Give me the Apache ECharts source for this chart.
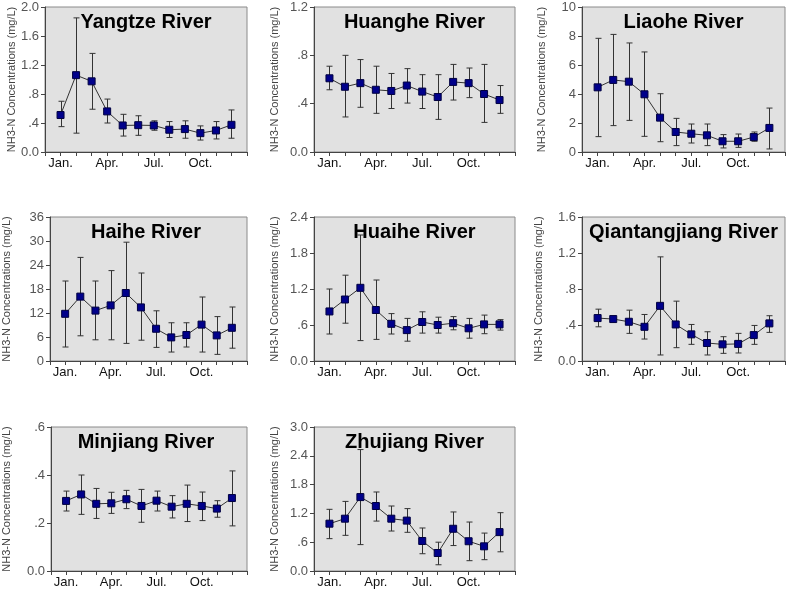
<!DOCTYPE html>
<html><head><meta charset="utf-8">
<script src="https://cdn.jsdelivr.net/npm/echarts@6/dist/echarts.min.js"></script>
<style>html,body{margin:0;padding:0;background:#fff}#c{width:787px;height:591px}</style>
</head><body><div id="c"></div>
<script>
var months = ['Jan.','Feb.','Mar.','Apr.','May','Jun.','Jul.','Aug.','Sep.','Oct.','Nov.','Dec.'];
var rivers = ['Yangtze River','Huanghe River','Liaohe River','Haihe River','Huaihe River','Qiantangjiang River','Minjiang River','Zhujiang River'];

var yangtzeMean = [0.51,1.06,0.975,0.56,0.366,0.37,0.366,0.307,0.316,0.26,0.297,0.375];
var yangtzeHigh = [0.70,1.85,1.36,0.73,0.52,0.50,0.43,0.42,0.43,0.36,0.42,0.58];
var yangtzeLow  = [0.35,0.26,0.59,0.40,0.22,0.23,0.30,0.20,0.19,0.165,0.18,0.19];

var huangheMean = [0.61,0.54,0.57,0.515,0.505,0.55,0.50,0.455,0.58,0.57,0.48,0.43];
var huangheHigh = [0.71,0.80,0.765,0.71,0.65,0.69,0.64,0.64,0.725,0.695,0.725,0.55];
var huangheLow  = [0.515,0.29,0.37,0.32,0.36,0.405,0.36,0.27,0.43,0.45,0.245,0.32];

var liaoheMean = [4.46,4.97,4.85,3.98,2.37,1.38,1.26,1.15,0.74,0.74,1.03,1.66];
var liaoheHigh = [7.84,8.11,7.52,6.9,4.02,2.32,1.93,1.93,1.2,1.24,1.38,3.03];
var liaoheLow  = [1.06,1.82,2.18,1.08,0.71,0.44,0.62,0.44,0.28,0.32,0.74,0.21];

var haiheMean = [11.8,16.1,12.6,13.9,17.0,13.4,8.06,5.9,6.5,9.1,6.4,8.3];
var haiheHigh = [20.0,25.9,20.0,22.6,29.7,22.0,12.55,9.56,9.56,16.0,11.1,13.5];
var haiheLow  = [3.5,6.3,5.3,5.3,4.4,5.2,3.4,2.24,3.5,2.24,1.66,3.2];

var huaiheMean = [0.826,1.025,1.22,0.85,0.62,0.515,0.65,0.60,0.63,0.545,0.61,0.61];
var huaiheHigh = [1.2,1.43,2.1,1.35,0.79,0.71,0.82,0.73,0.74,0.71,0.765,0.69];
var huaiheLow  = [0.45,0.63,0.34,0.36,0.45,0.33,0.465,0.465,0.52,0.38,0.455,0.515];

var qiantangMean = [0.477,0.466,0.436,0.38,0.613,0.406,0.296,0.20,0.185,0.19,0.288,0.418];
var qiantangHigh = [0.576,0.47,0.565,0.517,1.157,0.665,0.406,0.325,0.27,0.307,0.395,0.503];
var qiantangLow  = [0.38,0.462,0.307,0.244,0.067,0.148,0.185,0.067,0.085,0.089,0.185,0.318];

var minjiangMean = [0.292,0.319,0.28,0.282,0.299,0.271,0.293,0.268,0.28,0.271,0.26,0.304];
var minjiangHigh = [0.333,0.40,0.344,0.328,0.336,0.34,0.333,0.314,0.358,0.329,0.293,0.417];
var minjiangLow  = [0.25,0.236,0.219,0.24,0.26,0.203,0.25,0.221,0.206,0.21,0.224,0.188];

var zhujiangMean = [0.986,1.09,1.54,1.354,1.09,1.05,0.625,0.375,0.88,0.62,0.514,0.81];
var zhujiangHigh = [1.285,1.45,2.53,1.646,1.354,1.30,0.896,0.60,1.23,1.02,0.79,1.215];
var zhujiangLow  = [0.674,0.743,0.55,1.04,0.833,0.806,0.36,0.13,0.53,0.215,0.236,0.40];

var yMax = [2.0,1.2,10,36,2.4,1.6,0.6,3.0];
var yStep = [0.4,0.4,2,6,0.6,0.4,0.2,0.6];
var yInt = [false,false,true,true,false,false,false,false];

var means = [yangtzeMean,huangheMean,liaoheMean,haiheMean,huaiheMean,qiantangMean,minjiangMean,zhujiangMean];
var highs = [yangtzeHigh,huangheHigh,liaoheHigh,haiheHigh,huaiheHigh,qiantangHigh,minjiangHigh,zhujiangHigh];
var lows  = [yangtzeLow,huangheLow,liaoheLow,haiheLow,huaiheLow,qiantangLow,minjiangLow,zhujiangLow];

var colLeft = [45,314,582], colW = [202,201,203];
var rowTop = [7,217,427], rowH = [145,144,144];
var nameGaps = [28,34,35,38,34,38,39,34];

var axisCats = [''].concat(months, ['']);
var showLabel = {1:1,4:1,7:1,10:1};

var grids=[],xAxes=[],yAxes=[],series=[],graphics=[];
for (var i=0;i<8;i++){
  var c=i%3, r=Math.floor(i/3);
  grids.push({left:colLeft[c],top:rowTop[r],width:colW[c],height:rowH[r],show:true,backgroundColor:'#e1e1e1',borderColor:'#8a8a8a',borderWidth:1,containLabel:false});
  graphics.push({type:'text',x:colLeft[c]+colW[c]/2,y:rowTop[r]+15,z:10,
    style:{text:rivers[i],align:'center',verticalAlign:'middle',fontFamily:'Liberation Sans, Arial',fontSize:20,fontWeight:'bold',fill:'#000'}});
  xAxes.push({type:'category',gridIndex:i,data:axisCats,boundaryGap:false,
    axisLine:{lineStyle:{color:'#444',width:1}},
    axisTick:{length:4,lineStyle:{color:'#444'},interval:0},
    axisLabel:{interval:function(idx){return !!showLabel[idx];},color:'#111',fontSize:13,fontFamily:'Liberation Sans, Arial',margin:5},
    splitLine:{show:false}});
  (function(isInt){
  yAxes.push({type:'value',gridIndex:i,min:0,max:yMax[i],interval:yStep[i],
    name:'NH3-N Concentrations (mg/L)',nameLocation:'middle',nameGap:nameGaps[i],
    nameTextStyle:{fontSize:11,color:'#444',fontFamily:'Liberation Sans, Arial'},
    axisLine:{show:true,lineStyle:{color:'#444',width:1}},
    axisTick:{show:true,length:4,lineStyle:{color:'#444'}},
    axisLabel:{color:'#555',fontSize:13,fontFamily:'Liberation Sans, Arial',margin:6,
      formatter:function(v){ if(isInt) return String(Math.round(v)); var s=v.toFixed(1); if(v>0&&v<1) s=s.slice(1); return s; }},
    splitLine:{show:false}});
  })(yInt[i]);
  var lineData=[], errData=[];
  for (var k=0;k<12;k++){ lineData.push([k+1,means[i][k]]); errData.push([k+1,lows[i][k],highs[i][k]]); }
  series.push({type:'custom',xAxisIndex:i,yAxisIndex:i,data:errData,z:2,
    renderItem:function(params,api){
      var x=api.value(0), lo=api.coord([x,api.value(1)]), hi=api.coord([x,api.value(2)]);
      var st={stroke:'#333',lineWidth:1};
      var cx=Math.round(lo[0])+0.5;
      return {type:'group',children:[
        {type:'line',shape:{x1:cx,y1:hi[1],x2:cx,y2:lo[1]},style:st},
        {type:'line',shape:{x1:cx-3,y1:hi[1],x2:cx+3,y2:hi[1]},style:st},
        {type:'line',shape:{x1:cx-3,y1:lo[1],x2:cx+3,y2:lo[1]},style:st}
      ]};
    }});
  series.push({type:'line',xAxisIndex:i,yAxisIndex:i,data:lineData,z:3,
    symbol:'rect',symbolSize:7,showAllSymbol:true,
    lineStyle:{color:'#333',width:1},
    itemStyle:{color:'#00008b',borderColor:'#000040',borderWidth:1},
    emphasis:{disabled:true}});
}
var chart=echarts.init(document.getElementById('c'),null,{renderer:'canvas'});
chart.setOption({animation:false,grid:grids,xAxis:xAxes,yAxis:yAxes,series:series,graphic:graphics});
</script></body></html>
